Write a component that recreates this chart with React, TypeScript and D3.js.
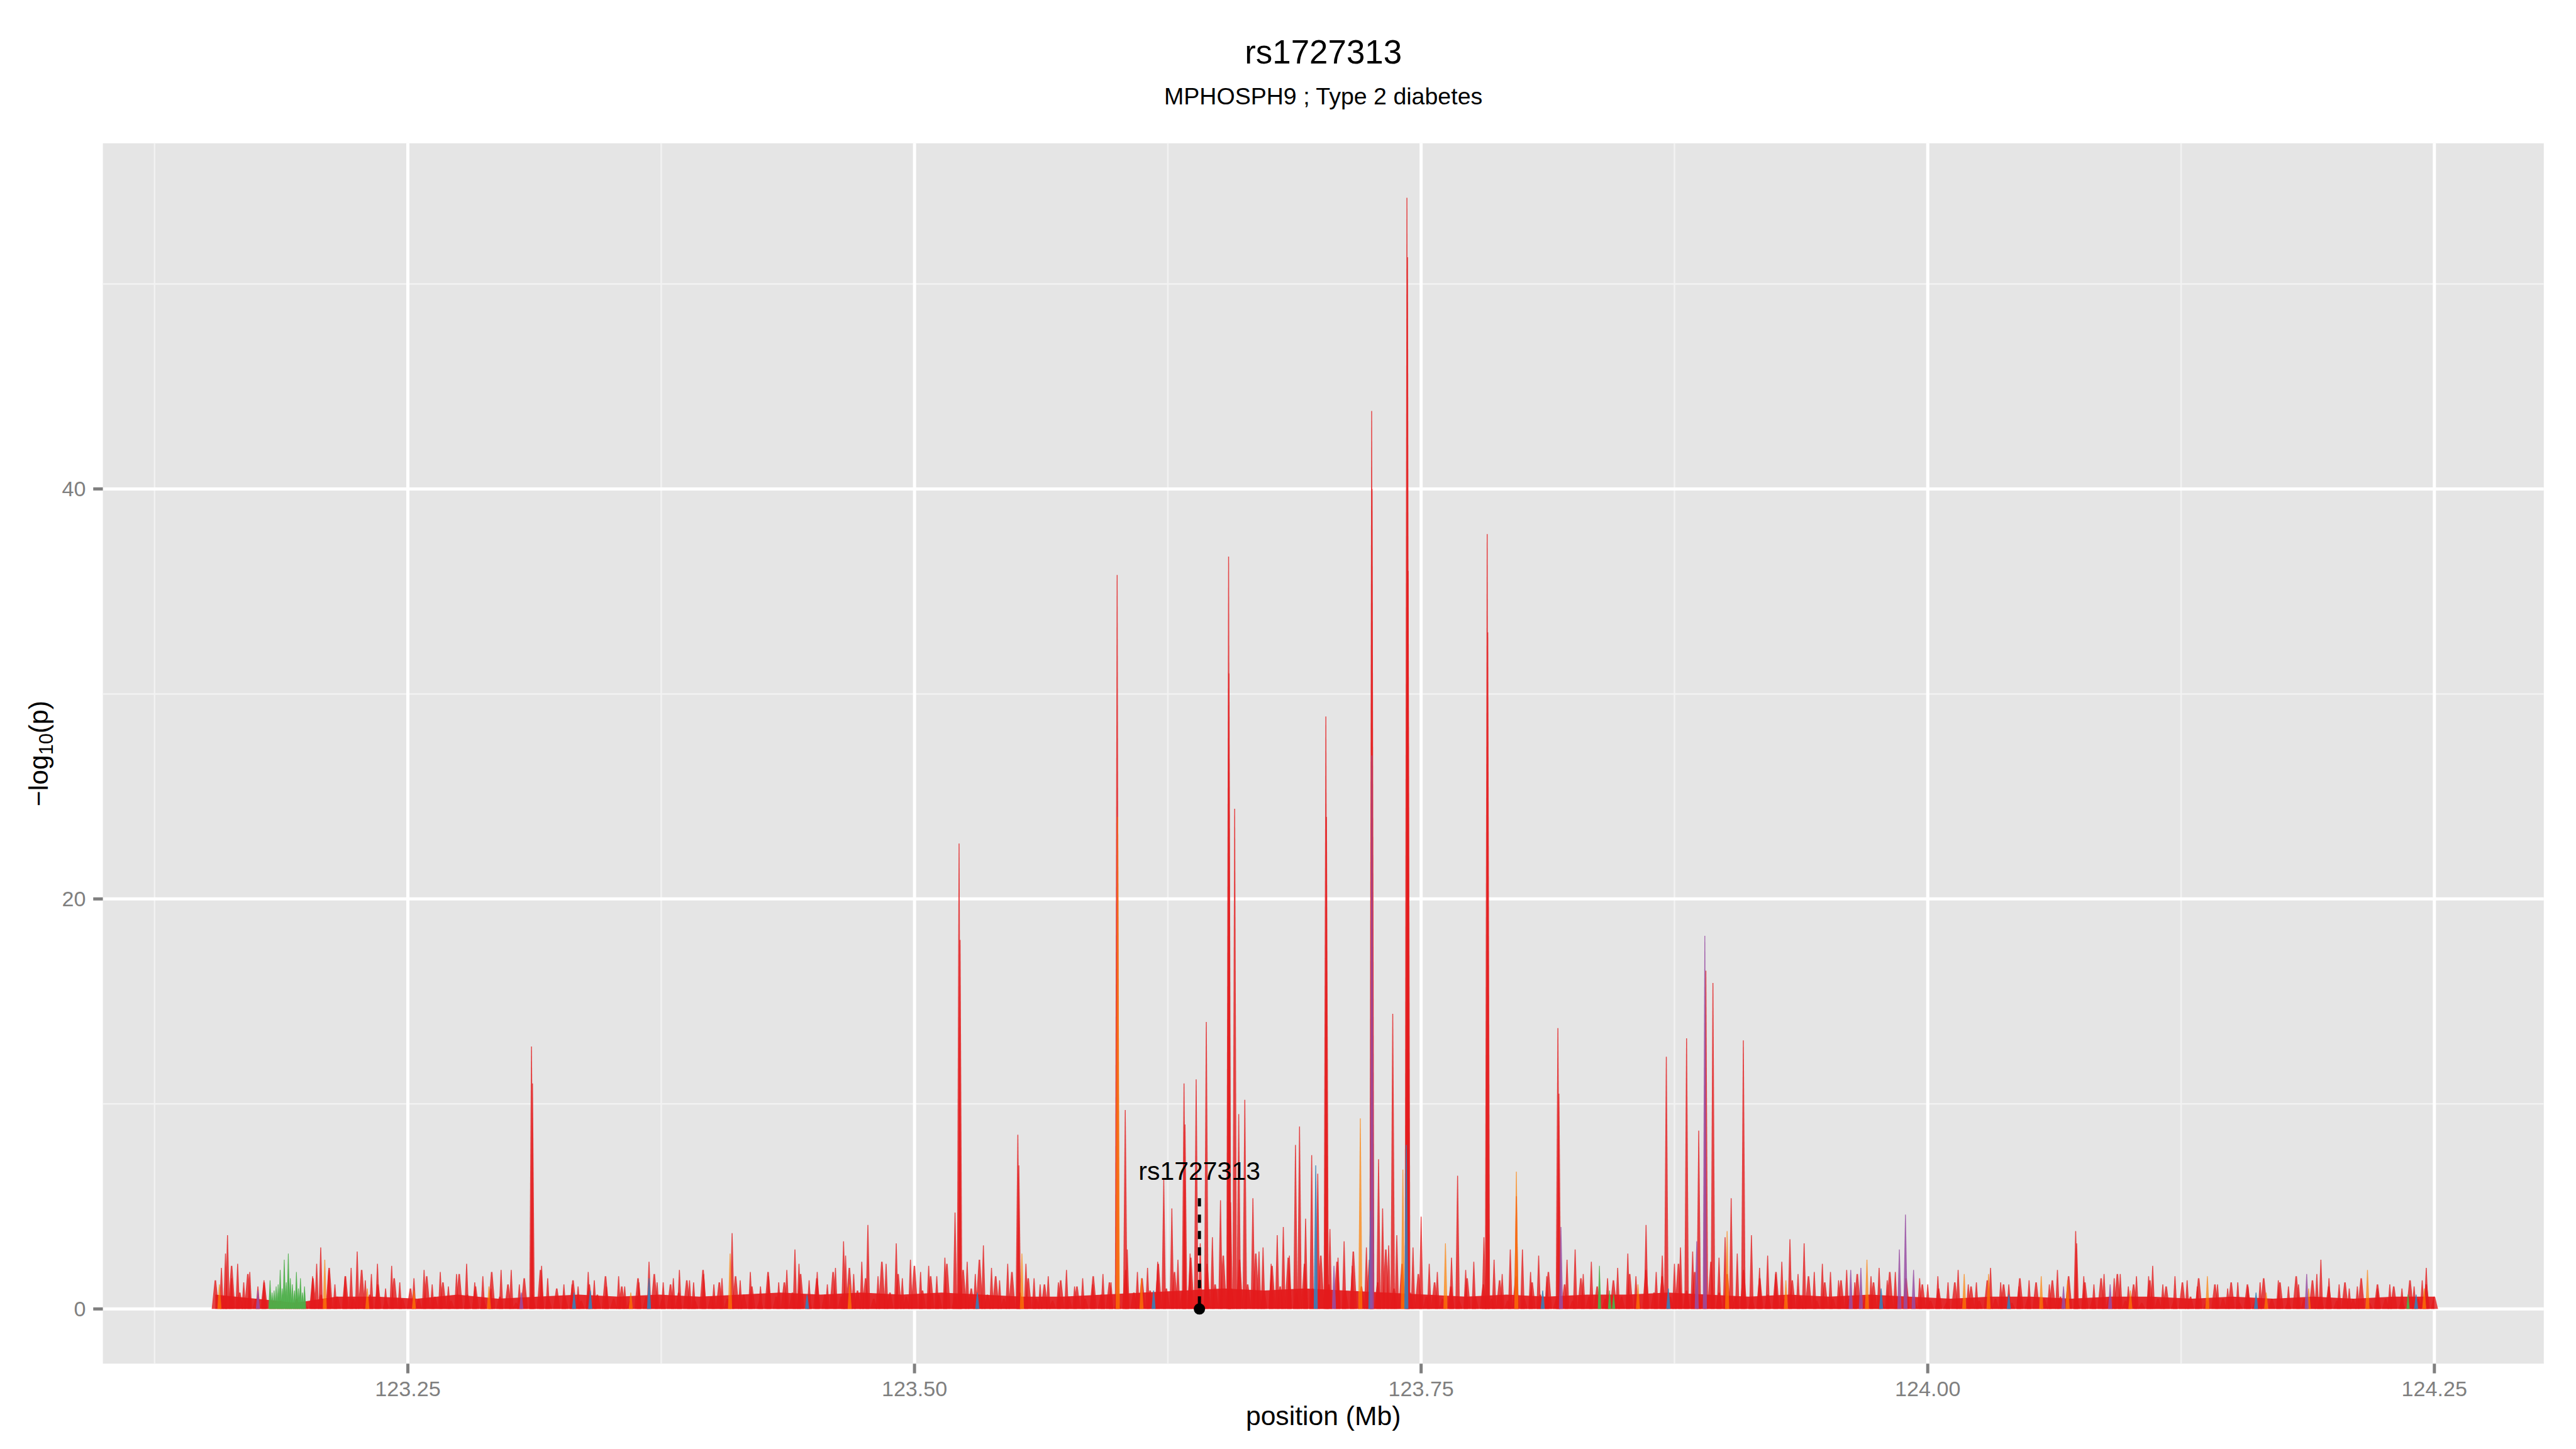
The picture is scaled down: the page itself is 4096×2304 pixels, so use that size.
import React from 'react';
import * as d3 from 'd3';

// reference is 4800x2700, drawn here at 4096/4800
const S = 4096 / 4800;
const W = 4096;
const H = 2304;
const FONT = '"Liberation Sans", Arial, Helvetica, sans-serif';

const title = 'rs1727313';
const subtitle = 'MPHOSPH9 ; Type 2 diabetes';
const leadSnp = 'rs1727313';
const leadPos = 123.6406;
const leadLabelY = 6.75;
const leadLineTop = 5.4;

const xTicks = [123.25, 123.5, 123.75, 124.0, 124.25];
const xTickLabels = ['123.25', '123.50', '123.75', '124.00', '124.25'];
const xMinor = [123.125, 123.375, 123.625, 123.875, 124.125];
const yTicks = [0, 20, 40];
const yMinor = [10, 30, 50];

// dense background, evenly spaced from first to last SNP
const noiseFrom = 123.155;
const noiseTo = 124.25;

// solid floor of the band (one value every ~0.02 Mb)
const redFloor = [
  0.7, 0.5, 0.3, 0.6, 0.6, 0.5, 0.7, 0.5, 0.6, 0.7,
  0.6, 0.7, 0.6, 0.7, 0.8, 0.7, 0.8, 0.7, 0.8, 0.7,
  0.6, 0.6, 0.7, 0.8, 0.9, 1.0, 0.9, 1.0, 0.9, 0.8,
  0.7, 0.6, 0.7, 0.6, 0.7, 0.7, 0.8, 0.7, 0.6, 0.7,
  0.6, 0.7, 0.6, 0.5, 0.6, 0.6, 0.5, 0.6, 0.6, 0.5,
  0.6, 0.5, 0.6, 0.5, 0.6, 0.6,
];

// small background spikes (one value every ~0.004 Mb)
const redNoise = [
  1.4, 0.6, 2.1, 0.8, 1.7, 0.5, 1.3, 0.3, 0.4, 0.3, 0.5, 0.3, 1.5, 0.7, 2.0, 0.6, 1.6, 0.5, 1.9, 0.7, 1.2, 0.4, 1.5, 0.5, 1.0,
  0.5, 1.6, 0.6, 1.3, 0.4, 1.7, 0.7, 1.1, 0.4, 1.8, 0.6, 1.2, 0.3, 1.5, 0.7, 1.9, 0.5, 1.0, 0.6, 1.4, 0.4, 1.2, 0.7, 1.6, 0.5,
  1.1, 0.4, 1.5, 0.6, 1.7, 0.5, 1.2, 0.8, 1.4, 0.4, 1.9, 0.6, 1.3, 0.5, 1.6, 0.7, 1.1, 0.4, 1.8, 0.6, 1.3, 0.8, 1.7, 0.5, 1.5,
  0.7, 1.8, 0.6, 2.0, 0.9, 1.5, 0.5, 2.3, 0.8, 1.7, 0.6, 2.1, 0.9, 1.6, 0.7, 2.2, 0.6, 1.9, 1.0, 2.4, 0.7, 1.6, 0.5, 1.8, 0.8,
  1.5, 0.5, 1.2, 0.4, 1.4, 0.6, 1.1, 0.5, 1.6, 0.7, 1.3, 0.5, 1.9, 0.8, 1.5, 0.9, 2.2, 1.0, 1.8, 0.9, 2.5, 1.1, 2.2, 1.2, 2.6,
  1.0, 2.4, 1.2, 2.7, 0.9, 2.1, 1.1, 2.5, 0.8, 2.2, 1.0, 2.6, 1.2, 2.3, 0.9, 2.8, 1.1, 2.4, 1.3, 2.9, 1.0, 2.2, 0.8, 1.7, 0.6,
  1.3, 0.5, 1.1, 0.4, 1.5, 0.6, 1.2, 0.5, 1.4, 0.4, 1.6, 0.5, 1.3, 0.7, 1.8, 0.5, 1.2, 0.4, 1.5, 0.6, 1.1, 0.5, 1.4, 0.6, 1.7,
  0.7, 1.9, 0.8, 1.6, 0.6, 2.2, 0.9, 1.8, 0.7, 2.3, 0.8, 1.7, 0.6, 1.9, 0.5, 1.5, 0.7, 1.8, 0.5, 1.4, 0.6, 1.6, 0.4, 1.3, 0.5,
  1.4, 0.5, 1.7, 0.6, 1.3, 0.4, 1.8, 0.6, 1.5, 0.5, 1.2, 0.4, 1.0, 0.3, 1.3, 0.5, 1.1, 0.4, 1.4, 0.5, 1.2, 0.3, 1.5, 0.5, 1.3,
  0.5, 1.4, 0.6, 1.6, 0.4, 1.3, 0.5, 1.5, 0.6, 1.7, 0.4, 1.2, 0.3, 1.4, 0.5, 1.1, 0.4, 1.3, 0.6, 1.5, 0.4, 1.2, 0.5, 1.3, 0.3,
  1.2, 0.4, 1.5, 0.5, 1.3, 0.3, 1.6, 0.5, 1.4, 0.6, 1.1, 0.4, 1.3, 0.5, 1.5, 0.3, 1.2, 0.5, 1.1, 0.4, 1.4, 0.5, 1.2, 0.6,
];

// [position Mb, -log10 p] by LD colour
const redSnps: [number, number][] = [
  [123.158, 2.0], [123.16, 2.7], [123.161, 3.6], [123.163, 1.5], [123.166, 2.2], [123.169, 1.3], [123.172, 1.8], [123.176, 1.1], [123.179, 1.4],
  [123.203, 1.6], [123.205, 2.2], [123.207, 3.0], [123.211, 1.9], [123.214, 1.2], [123.219, 1.6], [123.222, 2.0], [123.225, 2.8], [123.229, 1.4],
  [123.232, 1.7], [123.235, 2.2], [123.239, 1.0], [123.242, 2.1], [123.246, 1.3], [123.253, 1.5], [123.258, 1.9], [123.262, 1.2], [123.266, 1.8],
  [123.27, 1.1], [123.274, 1.7], [123.279, 2.2], [123.283, 1.3], [123.287, 1.6], [123.291, 1.0], [123.296, 1.9], [123.301, 1.9], [123.305, 1.2],
  [123.311, 12.8], [123.3115, 11.0], [123.316, 2.1], [123.319, 1.5], [123.327, 1.2], [123.331, 1.2], [123.334, 1.1], [123.339, 1.8], [123.342, 1.4],
  [123.348, 1.1], [123.354, 1.6], [123.357, 1.1], [123.364, 1.3], [123.369, 2.3], [123.373, 1.3], [123.376, 1.3], [123.381, 1.5], [123.384, 1.9],
  [123.389, 1.4], [123.391, 1.3], [123.396, 1.7], [123.401, 1.2], [123.405, 1.5], [123.41, 3.7], [123.414, 1.4], [123.419, 1.8], [123.424, 1.1],
  [123.428, 1.6], [123.433, 1.3], [123.437, 1.9], [123.441, 2.9], [123.443, 2.2], [123.448, 1.4], [123.452, 1.8], [123.457, 1.2], [123.461, 2.0],
  [123.465, 3.3], [123.466, 2.6], [123.47, 1.7], [123.474, 2.3], [123.477, 4.1], [123.482, 1.6], [123.486, 2.2], [123.491, 3.2], [123.494, 1.5],
  [123.498, 2.4], [123.503, 1.8], [123.507, 2.1], [123.511, 1.6], [123.515, 2.5], [123.52, 4.7], [123.522, 22.7], [123.5225, 18.0], [123.526, 2.3],
  [123.53, 1.7], [123.534, 3.1], [123.538, 2.0], [123.542, 1.4], [123.546, 2.2], [123.551, 8.5], [123.5515, 7.0], [123.555, 2.2], [123.559, 1.5],
  [123.562, 1.2], [123.566, 1.6], [123.571, 1.3], [123.575, 1.9], [123.579, 1.1], [123.583, 1.5], [123.588, 1.2], [123.593, 1.7], [123.597, 1.3],
  [123.6, 35.8], [123.604, 9.7], [123.605, 2.9], [123.61, 1.8], [123.615, 2.0], [123.62, 2.3], [123.623, 6.3], [123.627, 4.9], [123.63, 2.4],
  [123.633, 11.0], [123.6335, 9.0], [123.636, 2.7], [123.639, 11.2], [123.641, 3.2], [123.644, 14.0], [123.647, 3.5], [123.651, 5.3],
  [123.655, 36.7], [123.6552, 31.0], [123.656, 5.2], [123.658, 24.4], [123.66, 9.5], [123.663, 10.2], [123.667, 5.4], [123.67, 2.8], [123.672, 3.0],
  [123.676, 2.2], [123.679, 3.6], [123.682, 4.0], [123.685, 2.6], [123.688, 8.0], [123.69, 8.9], [123.693, 4.4], [123.696, 7.5], [123.699, 6.6],
  [123.703, 28.9], [123.7033, 24.0], [123.705, 3.9], [123.709, 2.5], [123.712, 3.3], [123.716, 2.1], [123.723, 3.0], [123.7256, 43.8], [123.7258, 40.0],
  [123.729, 7.3], [123.731, 4.9], [123.734, 3.1], [123.736, 14.4], [123.738, 3.6], [123.743, 54.2], [123.7433, 51.3], [123.7436, 36.0], [123.746, 3.0],
  [123.75, 4.5], [123.754, 2.2], [123.758, 1.8], [123.765, 2.5], [123.768, 6.5], [123.772, 1.9], [123.776, 2.3], [123.781, 3.5], [123.7826, 37.8],
  [123.7829, 33.0], [123.786, 2.4], [123.79, 1.7], [123.794, 2.9], [123.797, 5.5], [123.8, 2.9], [123.804, 1.8], [123.808, 2.6], [123.812, 1.6],
  [123.8175, 13.7], [123.818, 10.5], [123.822, 2.4], [123.826, 2.9], [123.83, 1.7], [123.834, 2.3], [123.842, 1.5], [123.847, 2.0], [123.852, 2.7],
  [123.856, 1.6], [123.861, 4.1], [123.866, 1.8], [123.869, 2.6], [123.871, 12.3], [123.875, 2.2], [123.878, 3.0], [123.881, 13.2], [123.884, 2.8],
  [123.887, 8.7], [123.8905, 16.5], [123.894, 15.9], [123.897, 2.5], [123.9, 3.5], [123.903, 5.4], [123.906, 2.7], [123.909, 13.1], [123.913, 3.6],
  [123.917, 2.0], [123.921, 2.6], [123.925, 1.7], [123.928, 2.3], [123.932, 3.4], [123.936, 1.7], [123.939, 3.2], [123.944, 1.8], [123.948, 2.2],
  [123.952, 1.8], [123.956, 1.4], [123.96, 1.9], [123.964, 1.3], [123.972, 1.6], [123.976, 2.0], [123.98, 1.4], [123.984, 1.8], [123.996, 1.5],
  [124.0, 1.2], [124.005, 1.6], [124.01, 1.3], [124.015, 1.9], [124.02, 1.2], [124.024, 1.3], [124.031, 2.0], [124.036, 1.3], [124.04, 1.2],
  [124.045, 1.1], [124.05, 1.4], [124.06, 1.2], [124.064, 1.9], [124.073, 3.8], [124.0735, 3.2], [124.077, 1.6], [124.082, 1.2], [124.087, 1.7],
  [124.092, 1.5], [124.095, 1.7], [124.099, 1.1], [124.103, 1.6], [124.109, 1.6], [124.111, 2.1], [124.116, 1.2], [124.122, 1.6], [124.128, 1.4],
  [124.133, 1.1], [124.143, 1.2], [124.148, 1.0], [124.153, 1.3], [124.158, 1.1], [124.164, 1.3], [124.173, 1.4], [124.178, 1.1], [124.183, 1.2],
  [124.192, 1.7], [124.194, 2.4], [124.198, 1.5], [124.203, 1.2], [124.208, 1.0], [124.212, 1.1], [124.222, 1.0], [124.228, 1.2], [124.234, 1.0],
  [124.24, 1.1], [124.244, 1.4], [124.246, 2.0],
];

const orangeSnps: [number, number][] = [
  [123.157, 1.2], [123.209, 2.4], [123.23, 1.0], [123.253, 0.9], [123.29, 1.1], [123.36, 0.8], [123.409, 2.7], [123.468, 1.2], [123.553, 2.7],
  [123.6003, 24.0], [123.612, 1.5], [123.72, 9.3], [123.741, 6.8], [123.762, 3.2], [123.797, 6.7], [123.857, 1.2], [123.901, 3.8], [123.93, 1.4],
  [123.97, 2.4], [124.018, 1.7], [124.03, 1.7], [124.056, 1.6], [124.069, 1.4], [124.1, 0.9], [124.138, 1.6], [124.167, 0.8], [124.188, 1.0],
  [124.217, 1.9], [124.245, 1.0],
];

const greenSnps: [number, number][] = [
  [123.182, 1.4], [123.183, 0.8], [123.184, 0.9], [123.185, 1.1], [123.186, 1.2], [123.187, 1.9], [123.188, 1.0], [123.189, 2.4], [123.19, 1.3],
  [123.191, 2.7], [123.192, 1.5], [123.193, 1.2], [123.194, 0.9], [123.195, 1.8], [123.196, 1.0], [123.197, 1.5], [123.198, 0.8], [123.199, 1.1],
  [123.838, 2.1], [123.843, 0.9], [123.845, 0.7], [124.237, 0.7],
];

const blueSnps: [number, number][] = [
  [123.332, 0.8], [123.34, 0.9], [123.369, 1.5], [123.447, 0.7], [123.531, 0.8], [123.618, 0.9], [123.698, 7.0], [123.725, 4.8], [123.7427, 8.0],
  [123.81, 0.9], [123.872, 1.0], [123.977, 1.0], [124.04, 0.7], [124.162, 0.8], [124.241, 0.7],
];

const purpleSnps: [number, number][] = [
  [123.176, 0.9], [123.306, 0.8], [123.707, 2.1], [123.7257, 27.0], [123.819, 4.0], [123.886, 3.3], [123.89, 18.2], [123.962, 1.9], [123.967, 2.0],
  [123.986, 2.9], [123.989, 4.6], [123.993, 1.9], [124.067, 1.1], [124.09, 1.2], [124.187, 1.7],
];

// Set1 colours for the LD bins
const layers = [
  { snps: redSnps, color: '#E41A1C', opacity: 0.8, half: 0.0011 },
  { snps: orangeSnps, color: '#FF7F00', opacity: 0.7, half: 0.001 },
  { snps: greenSnps, color: '#4DAF4A', opacity: 0.95, half: 0.0008 },
  { snps: blueSnps, color: '#377EB8', opacity: 0.9, half: 0.001 },
  { snps: purpleSnps, color: '#984EA3', opacity: 0.85, half: 0.001 },
];

const App = () => {
  const left = 191.7 * S;
  const right = 4740 * S;
  const top = 267 * S;
  const bottom = 2541 * S;

  const x = d3.scaleLinear().domain([123.0995, 124.304]).range([left, right]);
  const y = d3.scaleLinear().domain([-2.67, 56.86]).range([bottom, top]);

  const area = d3
    .area<[number, number]>()
    .x((d) => x(d[0]))
    .y0(y(0))
    .y1((d) => y(d[1]));

  // thin spike with a narrow flat tip
  const spikePath = (pos: number, p: number, half: number) =>
    area([
      [pos - half, 0],
      [pos - half * 0.2, p],
      [pos + half * 0.2, p],
      [pos + half, 0],
    ]) || '';

  const noiseX = d3.scaleLinear().domain([0, redNoise.length - 1]).range([noiseFrom, noiseTo]);
  const floorX = d3.scaleLinear().domain([0, redFloor.length - 1]).range([noiseFrom, noiseTo]);
  const floorPath = area(redFloor.map((v, i) => [floorX(i), v] as [number, number])) || '';

  const cx = (left + right) / 2;
  const cy = (top + bottom) / 2;
  const tickLen = 18 * S;
  const grey = '#7F7F7F';

  return (
    <svg
      width={W}
      height={H}
      style={{ position: 'fixed', left: 0, top: 0, background: '#fff' }}
      fontFamily={FONT}
    >
      <rect x={0} y={0} width={W} height={H} fill="#fff" />

      <text x={cx} y={118 * S} textAnchor="middle" fontSize={62 * S} fill="#000">
        {title}
      </text>
      <text x={cx} y={195 * S} textAnchor="middle" fontSize={44 * S} fill="#000">
        {subtitle}
      </text>

      {/* panel */}
      <rect x={left} y={top} width={right - left} height={bottom - top} fill="#E5E5E5" />
      {xMinor.map((v) => (
        <line key={'xm' + v} x1={x(v)} x2={x(v)} y1={top} y2={bottom} stroke="#F2F2F2" strokeWidth={2.5} />
      ))}
      {yMinor.map((v) => (
        <line key={'ym' + v} x1={left} x2={right} y1={y(v)} y2={y(v)} stroke="#F2F2F2" strokeWidth={2.5} />
      ))}
      {xTicks.map((v) => (
        <line key={'xg' + v} x1={x(v)} x2={x(v)} y1={top} y2={bottom} stroke="#fff" strokeWidth={5} />
      ))}
      {yTicks.map((v) => (
        <line key={'yg' + v} x1={left} x2={right} y1={y(v)} y2={y(v)} stroke="#fff" strokeWidth={5} />
      ))}

      {/* data */}
      <path d={floorPath} fill="#E41A1C" fillOpacity={0.92} />
      <g fill="#E41A1C" fillOpacity={0.8}>
        {redNoise.map((v, i) => (
          <path key={'n' + i} d={spikePath(noiseX(i), v, 0.0018)} />
        ))}
      </g>
      {layers.map((layer, li) => (
        <g key={'layer' + li} fill={layer.color} fillOpacity={layer.opacity}>
          {layer.snps.map((d, i) => (
            <path key={i} d={spikePath(d[0], d[1], layer.half)} />
          ))}
        </g>
      ))}

      {/* lead SNP */}
      <line
        x1={x(leadPos)}
        x2={x(leadPos)}
        y1={y(leadLineTop)}
        y2={y(0)}
        stroke="#000"
        strokeWidth={5}
        strokeDasharray="13 13"
      />
      <circle cx={x(leadPos)} cy={y(0)} r={9} fill="#000" />
      <text x={x(leadPos)} y={y(leadLabelY)} dy="0.35em" textAnchor="middle" fontSize={48 * S} fill="#000">
        {leadSnp}
      </text>

      {/* x axis */}
      {xTicks.map((v, i) => (
        <g key={'xt' + v}>
          <line x1={x(v)} x2={x(v)} y1={bottom} y2={bottom + tickLen} stroke={grey} strokeWidth={5} />
          <text x={x(v)} y={2601 * S} textAnchor="middle" fontSize={40 * S} fill={grey}>
            {xTickLabels[i]}
          </text>
        </g>
      ))}
      <text x={cx} y={2655 * S} textAnchor="middle" fontSize={50 * S} fill="#000">
        position (Mb)
      </text>

      {/* y axis */}
      {yTicks.map((v) => (
        <g key={'yt' + v}>
          <line x1={left - tickLen} x2={left} y1={y(v)} y2={y(v)} stroke={grey} strokeWidth={5} />
          <text x={160 * S} y={y(v)} dy="0.35em" textAnchor="end" fontSize={40 * S} fill={grey}>
            {v}
          </text>
        </g>
      ))}
      <text transform={`translate(${89 * S},${cy}) rotate(-90)`} textAnchor="middle" fontSize={50 * S} fill="#000">
        −log
        <tspan fontSize={36 * S} dy={9 * S}>
          10
        </tspan>
        <tspan dy={-9 * S}>(p)</tspan>
      </text>
    </svg>
  );
};

export default App;
